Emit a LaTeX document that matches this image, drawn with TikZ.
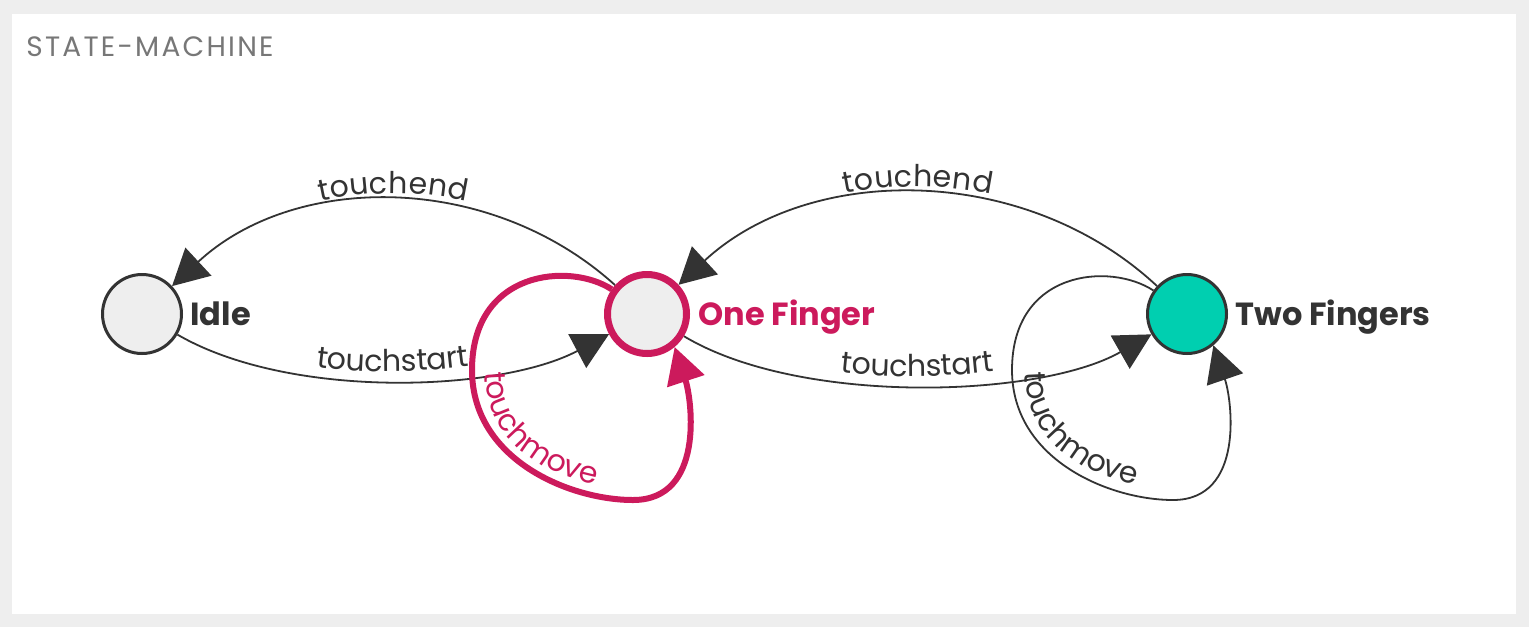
\documentclass[tikz,border=0pt]{standalone}
\usepackage{fontspec}
\setmainfont{Poppins}
\usetikzlibrary{arrows.meta,decorations.text}
\definecolor{ink}{HTML}{333333}
\definecolor{crim}{HTML}{CC1A5C}
\definecolor{tealfill}{HTML}{00CFB0}
\definecolor{nodegrey}{HTML}{EEEEEE}
\definecolor{titlegrey}{HTML}{777777}
\definecolor{framegrey}{HTML}{EEEEEE}
\pgfdeclarelayer{bgl}
\pgfdeclarelayer{edgel}
\pgfsetlayers{bgl,edgel,main}
\newcommand\lblfont{\fontsize{15pt}{18pt}\selectfont\color{ink}}
\newcommand\movfont{\fontsize{15pt}{18pt}\selectfont\color{crim}}
\begin{document}
\begin{tikzpicture}[x=0.5pt,y=-0.5pt,
  stnode/.style={circle, minimum size=39.5pt, inner sep=0pt, draw=ink, line width=1.5pt, fill=nodegrey},
  nlabel/.style={font=\fontsize{16pt}{19pt}\selectfont\bfseries, text=ink, anchor=base west, inner sep=0pt},
  conn/.style={draw=ink, line width=0.9pt, -{Triangle[length=18pt,width=19pt]}},
  hotconn/.style={draw=crim, line width=3pt, -{Triangle[length=18pt,width=19pt]}}]
\useasboundingbox (0,0) rectangle (1529,627);
\begin{pgfonlayer}{bgl}
\fill[framegrey] (0,0) rectangle (1529,627);
\fill[white] (12,14) rectangle (1516,614);
\end{pgfonlayer}

\node[anchor=base west, inner sep=0pt, text=titlegrey, font=\fontsize{14pt}{16pt}\selectfont] (title) at (26,56) {\addfontfeatures{LetterSpace=8}STATE-MACHINE};

\node[stnode] (idle) at (142,314) {};
\node[stnode, draw=crim, line width=3.5pt] (one) at (647,314) {};
\node[stnode, fill=tealfill] (two) at (1187,314) {};
\node[nlabel] (idlelbl) at (190,325) {Idle};
\node[nlabel, text=crim] (onelbl) at (698,325) {One Finger};
\node[nlabel] (twolbl) at (1235,325) {Two Fingers};

\begin{pgfonlayer}{edgel}
\draw[conn] (idle) .. controls (290,400) and (500,392) .. (one);
\draw[conn] (one) .. controls (490,172) and (295,172) .. (idle);
\draw[conn] (one) .. controls (800,406) and (1040,398) .. (two);
\draw[conn] (two) .. controls (1025,163) and (810,163) .. (one);
\draw[hotconn] (one.145) .. controls (570,262) and (472,270) .. (472,370)
  .. controls (472,460) and (570,500) .. (633,500)
  .. controls (705,500) and (692,400) .. (one.-50);
\draw[conn] (two.145) .. controls (1110,262) and (1012,270) .. (1012,370)
  .. controls (1012,460) and (1110,500) .. (1173,500)
  .. controls (1245,500) and (1232,400) .. (two.-50);
\end{pgfonlayer}

\path[decorate, decoration={text along path, text={|\lblfont|touchstart}, text align=center, raise=4.5pt}]
  (idle) .. controls (290,400) and (500,392) .. (one);
\path[decorate, decoration={text along path, text={|\lblfont|touchend}, text align=center, raise=3.5pt}]
  (idle) .. controls (295,172) and (490,172) .. (one);
\path[decorate, decoration={text along path, text={|\lblfont|touchstart}, text align=center, raise=4.5pt}]
  (one) .. controls (800,406) and (1040,398) .. (two);
\path[decorate, decoration={text along path, text={|\lblfont|touchend}, text align=center, raise=3.5pt}]
  (one) .. controls (810,163) and (1025,163) .. (two);
\path[decorate, decoration={text along path, text={|\movfont|touchmove}, text align=left, raise=0pt}]
  (485,372) .. controls (485,455) and (570,488) .. (633,488);
\path[decorate, decoration={text along path, text={|\lblfont|touchmove}, text align=left, raise=0pt}]
  (1025,372) .. controls (1025,455) and (1110,488) .. (1173,488);
\end{tikzpicture}
\end{document}
